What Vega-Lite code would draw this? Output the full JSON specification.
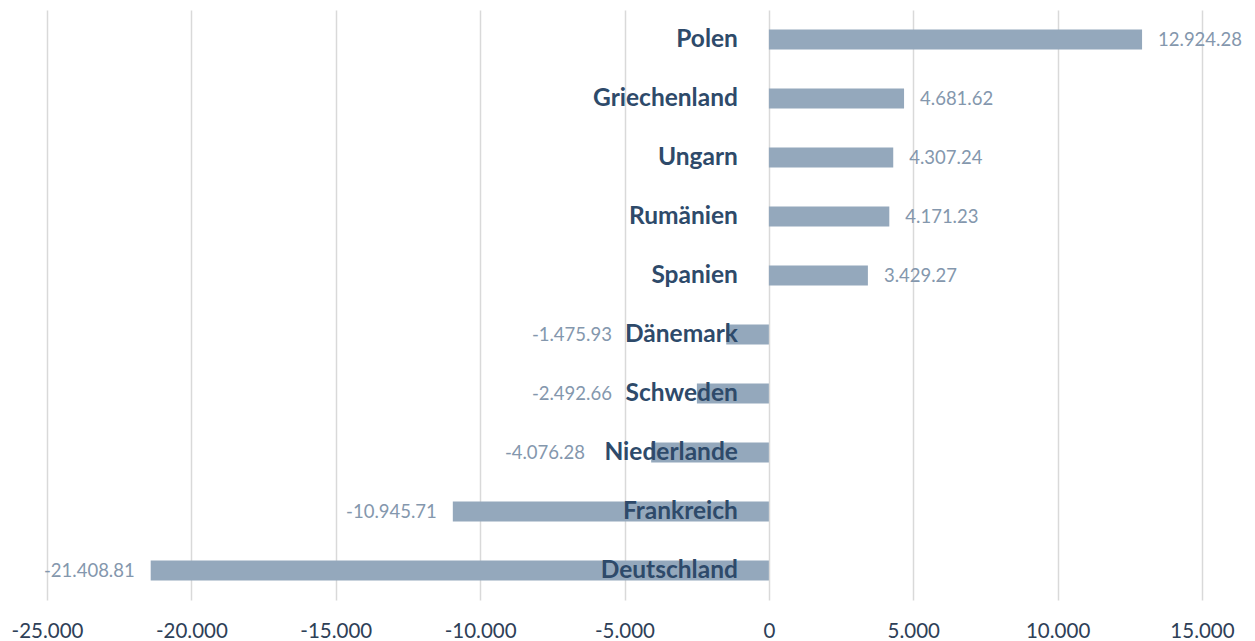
{
  "$schema": "https://vega.github.io/schema/vega-lite/v6.json",
  "width": 1155,
  "height": 590,
  "autosize": {"type": "none"},
  "padding": {"left": 47, "top": 10, "right": 53, "bottom": 41},
  "background": "white",
  "config": {
    "view": {"stroke": null},
    "font": "Lato",
    "locale": {
      "number": {"decimal": ".", "thousands": ".", "grouping": [3], "currency": ["", ""], "minus": "-"}
    }
  },
  "data": {
    "values": [
      {"country": "Polen", "value": 12924.28},
      {"country": "Griechenland", "value": 4681.62},
      {"country": "Ungarn", "value": 4307.24},
      {"country": "Rumänien", "value": 4171.23},
      {"country": "Spanien", "value": 3429.27},
      {"country": "Dänemark", "value": -1475.93},
      {"country": "Schweden", "value": -2492.66},
      {"country": "Niederlande", "value": -4076.28},
      {"country": "Frankreich", "value": -10945.71},
      {"country": "Deutschland", "value": -21408.81}
    ]
  },
  "encoding": {
    "y": {
      "field": "country",
      "type": "nominal",
      "sort": null,
      "axis": null,
      "scale": {"paddingInner": 0, "paddingOuter": 0}
    }
  },
  "layer": [
    {
      "mark": {"type": "bar", "color": "#94A8BC", "size": 20},
      "encoding": {
        "x": {
          "field": "value",
          "type": "quantitative",
          "scale": {"domain": [-25000, 15000], "nice": false},
          "axis": {
            "title": null,
            "values": [-25000, -20000, -15000, -10000, -5000, 0, 5000, 10000, 15000],
            "format": ",d",
            "grid": true,
            "gridColor": "#D9D9D9",
            "gridWidth": 1.5,
            "domain": false,
            "ticks": false,
            "labelFont": "Lato",
            "labelFontSize": 20.5,
            "labelColor": "#2E4057",
            "labelPadding": 21,
            "labelFlush": false,
            "labelOverlap": false
          }
        }
      }
    },
    {
      "mark": {
        "type": "text",
        "align": "right",
        "baseline": "middle",
        "dx": -31,
        "font": "Lato",
        "fontWeight": "bold",
        "fontSize": 24.5,
        "color": "#2E4A6A"
      },
      "encoding": {
        "x": {"datum": 0, "type": "quantitative"},
        "text": {"field": "country", "type": "nominal"}
      }
    },
    {
      "transform": [{"filter": "datum.value >= 0"}],
      "mark": {
        "type": "text",
        "align": "left",
        "baseline": "middle",
        "dx": 16,
        "font": "Lato",
        "fontSize": 18.5,
        "color": "#8497AD"
      },
      "encoding": {
        "x": {"field": "value", "type": "quantitative"},
        "text": {"field": "value", "type": "quantitative", "format": ",.2f"}
      }
    },
    {
      "transform": [{"filter": "datum.value < 0"}],
      "mark": {
        "type": "text",
        "align": "right",
        "baseline": "middle",
        "dx": {"expr": "min(-16, -(85 + 9 * length(datum.country)) - datum.value * 0.028875)"},
        "font": "Lato",
        "fontSize": 18.5,
        "color": "#8497AD"
      },
      "encoding": {
        "x": {"field": "value", "type": "quantitative"},
        "text": {"field": "value", "type": "quantitative", "format": ",.2f"}
      }
    }
  ]
}
